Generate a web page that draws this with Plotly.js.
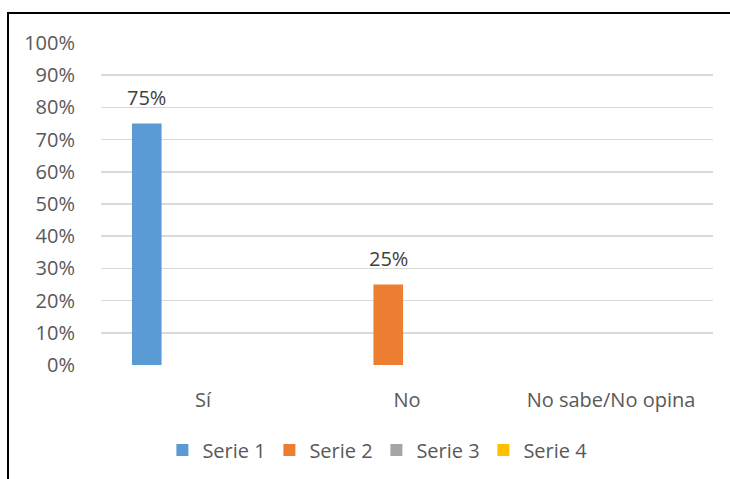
<!DOCTYPE html>
<html>
<head>
<meta charset="utf-8">
<script src="https://cdn.plot.ly/plotly-3.0.1.min.js"></script>
<style>
  html, body { margin: 0; padding: 0; background: #fff; }
  #wrap { position: relative; width: 730px; height: 479px; overflow: hidden; }
  #frame { position: absolute; left: 7px; top: 12px; width: 740px; height: 480px;
           border-left: 2.5px solid #000; border-top: 2.5px solid #000; pointer-events: none; z-index: 5; }
  #chart { position: absolute; left: 0; top: 0; width: 730px; height: 479px; }
</style>
</head>
<body>
<div id="wrap">
  <div id="chart"></div>
  <div id="frame"></div>
</div>
<script>
const categories = ["Sí", "No", "No sabe/No opina"];
const seriesNames = ["Serie 1", "Serie 2", "Serie 3", "Serie 4"];
const serie1 = [0.75, null, null];
const serie2 = [null, 0.25, null];
const serie3 = [null, null, null];
const serie4 = [null, null, null];
const yTickVals = [0, 0.1, 0.2, 0.3, 0.4, 0.5, 0.6, 0.7, 0.8, 0.9, 1.0];
const yTickText = ["0%", "10%", "20%", "30%", "40%", "50%", "60%", "70%", "80%", "90%", "100%"];

const colors = ["#5B9BD5", "#ED7D31", "#A5A5A5", "#FFC000"];
const allSeries = [serie1, serie2, serie3, serie4];
const font = "'Open Sans', sans-serif";
const fs = 20;
const bargap = 0.265;
const bargroupgap = 0.21;

const traces = allSeries.map((vals, i) => ({
  type: "bar",
  name: seriesNames[i],
  x: categories,
  y: vals,
  marker: { color: colors[i] },
  hoverinfo: "skip"
}));

const annotations = [];
allSeries.forEach((vals, i) => {
  vals.forEach((v, j) => {
    if (v !== null) {
      annotations.push({
        xref: "x", yref: "y",
        x: j + (i - (allSeries.length - 1) / 2) * (1 - bargap) / allSeries.length,
        y: v,
        text: Math.round(v * 100) + "%",
        showarrow: false,
        yanchor: "bottom",
        yshift: 11,
        font: { family: font, size: fs, color: "#404040" }
      });
    }
  });
});

const layout = {
  width: 730, height: 479,
  margin: { l: 101, r: 17, t: 43, b: 114, autoexpand: false },
  paper_bgcolor: "#fff",
  plot_bgcolor: "#fff",
  barmode: "group",
  bargap: bargap,
  bargroupgap: bargroupgap,
  showlegend: true,
  font: { family: font, size: fs, color: "#595959" },
  xaxis: {
    type: "category",
    showgrid: false, zeroline: false, showline: false,
    ticks: "outside", ticklen: 17, tickcolor: "rgba(0,0,0,0)",
    tickfont: { family: font, size: fs, color: "#595959" },
    fixedrange: true
  },
  yaxis: {
    range: [0, 1],
    tickvals: yTickVals,
    ticktext: yTickText,
    showgrid: true, gridcolor: "#D9D9D9", gridwidth: 1.5,
    zeroline: false, showline: false,
    ticks: "outside", ticklen: 21, tickcolor: "rgba(0,0,0,0)",
    tickfont: { family: font, size: fs, color: "#595959" },
    fixedrange: true
  },
  legend: {
    orientation: "h",
    x: 0.45, xanchor: "center",
    y: -0.264, yanchor: "middle",
    font: { family: font, size: fs, color: "#595959" },
    entrywidth: 62, entrywidthmode: "pixels",
    itemclick: false, itemdoubleclick: false
  },
  annotations: annotations
};

Plotly.newPlot("chart", traces, layout, { displayModeBar: false, staticPlot: true });
</script>
</body>
</html>
